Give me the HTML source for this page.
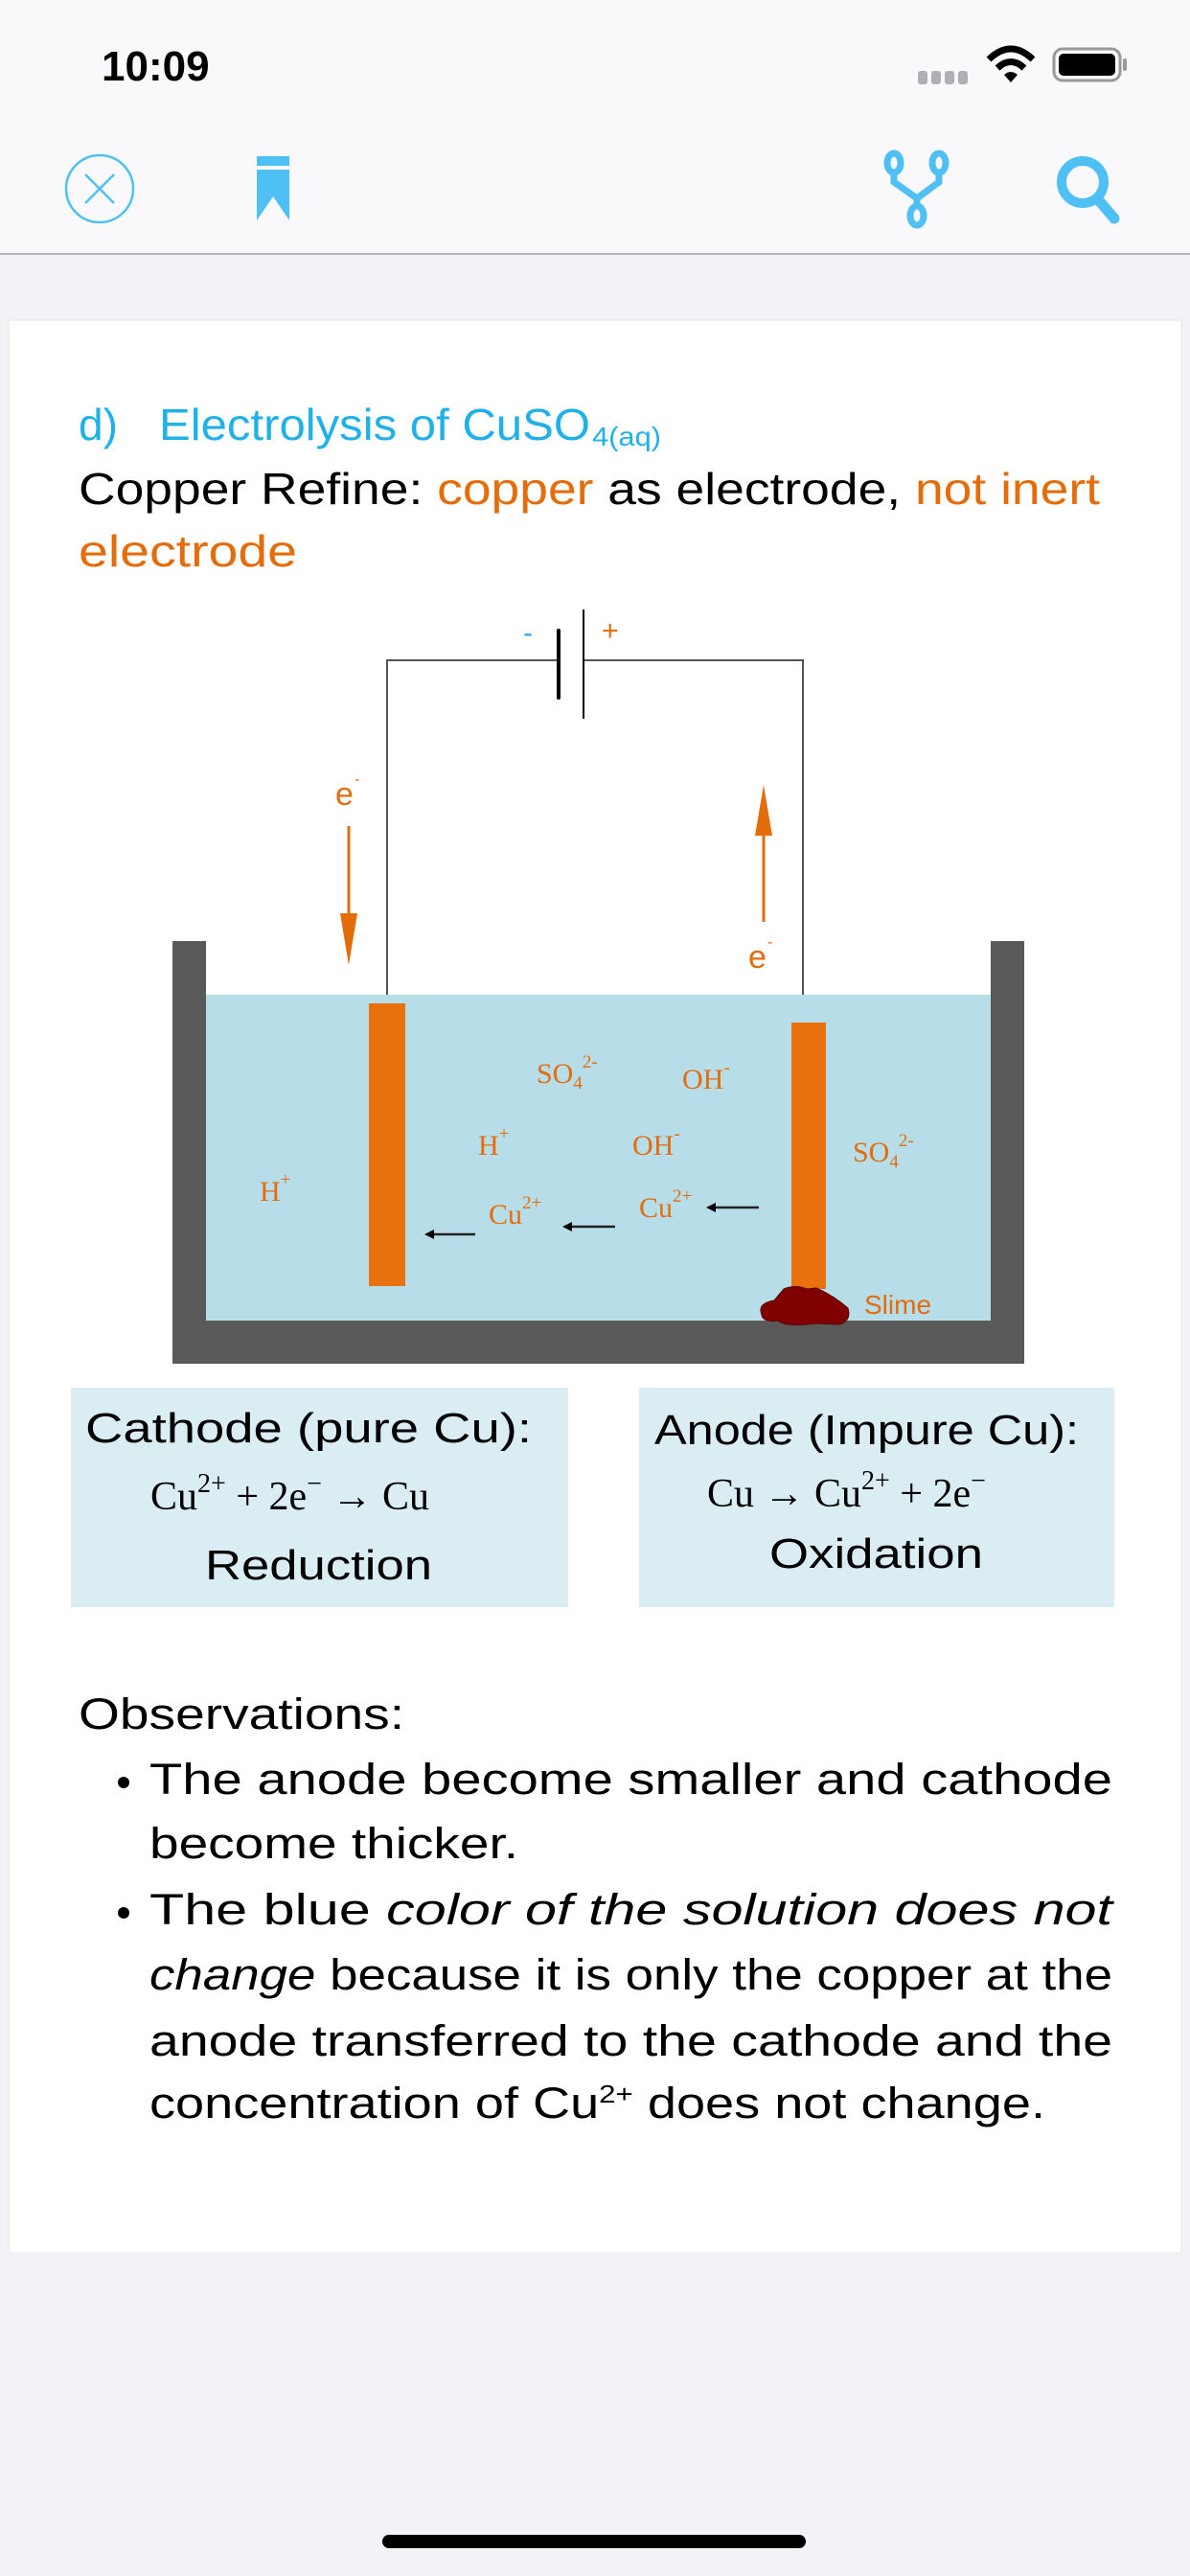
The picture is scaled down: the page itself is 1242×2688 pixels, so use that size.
<!DOCTYPE html>
<html><head><meta charset="utf-8"><style>
html,body{margin:0;padding:0;background:#f2f2f7;}
svg{display:block;}
.s{font-family:"Liberation Sans",sans-serif;}
.r{font-family:"Liberation Serif",serif;}
</style></head><body>
<svg width="1242" height="2688" viewBox="0 0 1242 2688" xmlns="http://www.w3.org/2000/svg">
<rect width="1242" height="2688" fill="#f2f2f7"/>
<rect width="1242" height="265" fill="#f9f9fb"/>
<line x1="0" y1="265" x2="1242" y2="265" stroke="#b5b5b8" stroke-width="2"/>
<text x="106" y="84" class="s" font-size="44" font-weight="bold" fill="#000">10:09</text>
<g fill="#b0b0b4"><rect x="958" y="74" width="10" height="14" rx="3"/><rect x="972" y="74" width="10" height="14" rx="3"/><rect x="986" y="74" width="10" height="14" rx="3"/><rect x="1000" y="74" width="10" height="14" rx="3"/></g>
<path d="M1032 62 Q1055 40 1078 62" stroke="#000" stroke-width="7" fill="none"/>
<path d="M1041 71 Q1055 58 1069 71" stroke="#000" stroke-width="7" fill="none"/>
<path d="M1048 78 L1055 86 L1062 78 Q1055 72 1048 78Z" fill="#000"/>
<rect x="1100" y="51" width="69" height="33" rx="9" fill="none" stroke="#999" stroke-width="3"/>
<rect x="1105" y="56" width="59" height="23" rx="5" fill="#000"/>
<rect x="1172" y="61" width="4" height="13" rx="2" fill="#999"/>
<circle cx="104" cy="197" r="35" fill="none" stroke="#4fc0f3" stroke-width="2.5"/>
<line x1="89" y1="182" x2="119" y2="212" stroke="#4fc0f3" stroke-width="2.5"/>
<line x1="119" y1="182" x2="89" y2="212" stroke="#4fc0f3" stroke-width="2.5"/>
<rect x="268" y="163" width="34" height="10" fill="#4fc0f3"/>
<path d="M268 177 H302 V230 L285 205 L268 230 Z" fill="#4fc0f3"/>
<g stroke="#4fc0f3" stroke-width="7" fill="none">
<ellipse cx="933" cy="170" rx="7" ry="10"/><ellipse cx="980" cy="170" rx="7" ry="10"/><ellipse cx="957" cy="225" rx="7" ry="10"/>
<path d="M933 180 V190 L957 207 L980 190 V180 M957 207 V215"/>
</g>
<circle cx="1130" cy="190" r="22" fill="none" stroke="#4fc0f3" stroke-width="10"/>
<line x1="1145" y1="207" x2="1163" y2="228" stroke="#4fc0f3" stroke-width="11" stroke-linecap="round"/>
<rect x="9" y="334" width="1224" height="2017" fill="#fff" stroke="#e4e4e8" stroke-width="1"/>
<text x="82" y="459" class="s" font-size="46" fill="#1fb1e8">d)</text>
<text x="166" y="459" class="s" font-size="46" fill="#1fb1e8" textLength="450" lengthAdjust="spacingAndGlyphs">Electrolysis of CuSO</text>
<text x="618" y="465" class="s" font-size="28" fill="#1fb1e8" textLength="72" lengthAdjust="spacingAndGlyphs">4(aq)</text>
<text x="82" y="526" class="s" font-size="46" textLength="1066" lengthAdjust="spacingAndGlyphs"><tspan fill="#000">Copper Refine: </tspan><tspan fill="#e46c0a">copper</tspan><tspan fill="#000"> as electrode, </tspan><tspan fill="#e46c0a">not inert</tspan></text>
<text x="82" y="591" class="s" font-size="46" fill="#e46c0a" textLength="228" lengthAdjust="spacingAndGlyphs">electrode</text>
<path d="M404 1047 V689 H583 M609 689 H838 V1067" stroke="#555" stroke-width="2" fill="none"/>
<line x1="583" y1="658" x2="583" y2="728" stroke="#000" stroke-width="4" stroke-linecap="round"/>
<line x1="609" y1="636" x2="609" y2="750" stroke="#000" stroke-width="2"/>
<text x="546" y="670" class="s" font-size="30" fill="#1fb1e8">-</text>
<text x="628" y="668" class="s" font-size="30" fill="#e46c0a">+</text>
<text x="350" y="840" class="s" font-size="34" fill="#e46c0a">e</text><text x="370" y="818" class="s" font-size="16" fill="#e46c0a">-</text>
<line x1="364" y1="862" x2="364" y2="960" stroke="#e46c0a" stroke-width="3"/>
<path d="M355 953 L373 953 L364 1007 Z" fill="#e46c0a"/>
<line x1="797" y1="962" x2="797" y2="865" stroke="#e46c0a" stroke-width="3"/>
<path d="M788 872 L806 872 L797 819 Z" fill="#e46c0a"/>
<text x="781" y="1010" class="s" font-size="34" fill="#e46c0a">e</text><text x="801" y="988" class="s" font-size="16" fill="#e46c0a">-</text>
<rect x="215" y="1038" width="819" height="340" fill="#b7dde8"/>
<rect x="180" y="982" width="35" height="441" fill="#595959"/>
<rect x="1034" y="982" width="35" height="441" fill="#595959"/>
<rect x="180" y="1378" width="889" height="45" fill="#595959"/>
<rect x="385" y="1047" width="38" height="295" fill="#e8710e"/>
<rect x="826" y="1067" width="36" height="278" fill="#e8710e"/>
<path d="M795 1372 Q790 1360 808 1357 L818 1345 Q830 1340 842 1345 L852 1344 Q870 1352 885 1365 Q889 1378 876 1382 L850 1381 Q820 1385 812 1378 Q796 1380 795 1372Z" fill="#800000" stroke="#5a0000" stroke-width="1"/>
<text x="902" y="1371" class="s" font-size="28" fill="#e46c0a">Slime</text>
<g class="r" fill="#e46c0a" font-size="30">
<text x="560" y="1130">SO<tspan font-size="19" dy="6">4</tspan><tspan font-size="19" dy="-22">2-</tspan></text>
<text x="712" y="1136">OH<tspan font-size="19" dy="-16">-</tspan></text>
<text x="499" y="1205">H<tspan font-size="19" dy="-16">+</tspan></text>
<text x="660" y="1205">OH<tspan font-size="19" dy="-16">-</tspan></text>
<text x="890" y="1212">SO<tspan font-size="19" dy="6">4</tspan><tspan font-size="19" dy="-22">2-</tspan></text>
<text x="271" y="1253">H<tspan font-size="19" dy="-16">+</tspan></text>
<text x="510" y="1277">Cu<tspan font-size="19" dy="-16">2+</tspan></text>
<text x="667" y="1270">Cu<tspan font-size="19" dy="-16">2+</tspan></text>
</g>
<g stroke="#222" stroke-width="2.5">
<line x1="450" y1="1288" x2="496" y2="1288"/><line x1="594" y1="1280" x2="642" y2="1280"/><line x1="744" y1="1260" x2="792" y2="1260"/>
</g>
<g fill="#000"><path d="M443 1288 L453 1283 L453 1293Z"/><path d="M587 1280 L597 1275 L597 1285Z"/><path d="M737 1260 L747 1255 L747 1265Z"/></g>
<rect x="74" y="1448" width="519" height="229" fill="#daedf3"/>
<rect x="667" y="1448" width="496" height="229" fill="#daedf3"/>
<g class="s" font-size="44" fill="#000">
<text x="89" y="1505" textLength="466" lengthAdjust="spacingAndGlyphs">Cathode (pure Cu):</text>
<text x="214" y="1648" textLength="237" lengthAdjust="spacingAndGlyphs">Reduction</text>
<text x="683" y="1507" textLength="443" lengthAdjust="spacingAndGlyphs">Anode (Impure Cu):</text>
<text x="803" y="1636" textLength="223" lengthAdjust="spacingAndGlyphs">Oxidation</text>
</g>
<g class="r" font-size="42" fill="#000">
<text x="157" y="1575">Cu<tspan font-size="28" dy="-18">2+</tspan><tspan dy="18"> + 2e</tspan><tspan font-size="28" dy="-18">−</tspan><tspan dy="18"> → Cu</tspan></text>
<text x="738" y="1572">Cu → Cu<tspan font-size="28" dy="-18">2+</tspan><tspan dy="18"> + 2e</tspan><tspan font-size="28" dy="-18">−</tspan></text>
</g>
<g class="s" font-size="45" fill="#000">
<text x="82" y="1804" textLength="340" lengthAdjust="spacingAndGlyphs">Observations:</text>
<circle cx="129" cy="1860" r="6"/>
<text x="156" y="1872" textLength="1005" lengthAdjust="spacingAndGlyphs">The anode become smaller and cathode</text>
<text x="156" y="1939" textLength="385" lengthAdjust="spacingAndGlyphs">become thicker.</text>
<circle cx="129" cy="1996" r="6"/>
<text x="156" y="2008" textLength="1005" lengthAdjust="spacingAndGlyphs">The blue <tspan font-style="italic">color of the solution does not</tspan></text>
<text x="156" y="2076" textLength="1005" lengthAdjust="spacingAndGlyphs"><tspan font-style="italic">change</tspan> because it is only the copper at the</text>
<text x="156" y="2145" textLength="1005" lengthAdjust="spacingAndGlyphs">anode transferred to the cathode and the</text>
<text x="156" y="2210" textLength="935" lengthAdjust="spacingAndGlyphs">concentration of Cu<tspan font-size="26" dy="-16">2+</tspan><tspan dy="16"> does not change.</tspan></text>
</g>
<rect x="399" y="2645" width="442" height="14" rx="7" fill="#000"/>
</svg>
</body></html>
